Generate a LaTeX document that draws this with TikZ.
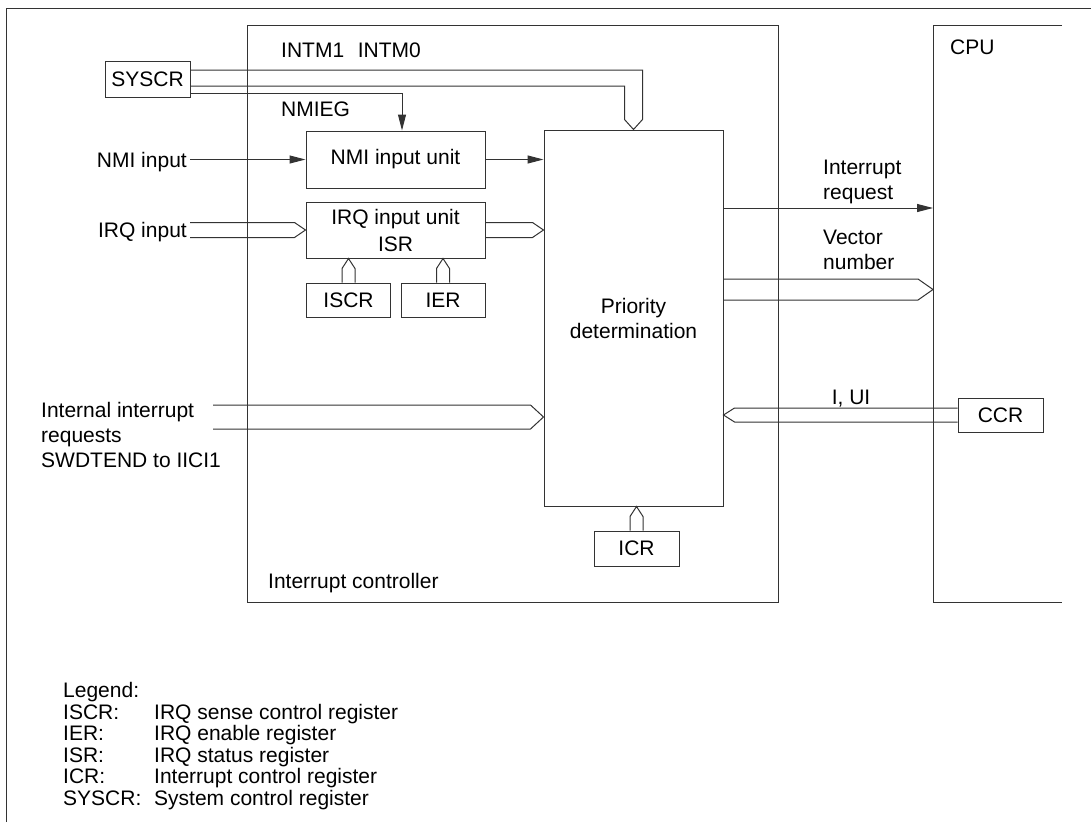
\documentclass[tikz,border=0pt]{standalone}
\usepackage{fontspec}
\setmainfont{Liberation Sans}
\usetikzlibrary{arrows.meta,calc}

\tikzset{
  wire/.style={line width=1pt, draw=black!80},
  reg/.style={wire, rectangle, inner sep=0pt},
  lbl/.style={inner sep=0pt, align=left},
}
% hollow bus, horizontal: from #1 to tip #2, half width #3, shoulder offset #4
\newcommand{\busH}[4]{%
  \draw[wire] ($(#1)+(0,-#3)$) -- ($(#2)+(#4,-#3)$) -- (#2) -- ($(#2)+(#4,#3)$) -- ($(#1)+(0,#3)$);}
% hollow bus, vertical (tip on top)
\newcommand{\busV}[4]{%
  \draw[wire] ($(#1)+(-#3,0)$) -- ($(#2)+(-#3,#4)$) -- (#2) -- ($(#2)+(#3,#4)$) -- ($(#1)+(#3,0)$);}

\begin{document}
\begin{tikzpicture}[x=1pt, y=-1pt, >={Triangle[length=16pt,width=8pt]}, font=\fontsize{21}{25}\selectfont]
    \useasboundingbox (0,0) rectangle (1091,822);
    % page frame
    \draw[wire] (6,822) -- (6,8) -- (1091,8);

    % interrupt controller and cpu
    \node[reg, minimum width=531pt, minimum height=577pt] (ic) at (512.5,313.5) {};
    \node[lbl, anchor=base west] (iclbl) at (268,588.5) {Interrupt controller};
    \coordinate (cpunw) at (933,25);
    \draw[wire] (1062,25) -- (cpunw) -- (933,602) -- (1062,602);
    \node[lbl, anchor=base west] (cpulbl) at (950,54.5) {CPU};

    % registers and units
    \node[reg, minimum width=85pt, minimum height=36pt] (syscr) at (147.5,79) {SYSCR};
    \node[reg, minimum width=179pt, minimum height=57pt] (nmi) at (395.5,159.5) {NMI input unit};
    \node[reg, minimum width=179pt, minimum height=56pt, align=center] (irq) at (395.5,230) {IRQ input unit\\[2pt]ISR};
    \node[reg, minimum width=84pt, minimum height=34pt] (iscr) at (348.5,300) {ISCR};
    \node[reg, minimum width=84pt, minimum height=34pt] (ier) at (443,300) {IER};
    \node[reg, minimum width=179pt, minimum height=376pt, align=center] (prio) at (633.5,318) {Priority\\determination};
    \node[reg, minimum width=85pt, minimum height=35pt] (icr) at (636.5,548.5) {ICR};
    \node[reg, minimum width=85pt, minimum height=34pt] (ccr) at (1000.5,415) {CCR};

    % signal names
    \node[lbl, anchor=base west] (intm) at (281,57.5) {INTM1\hspace{0.65em}INTM0};
    \node[lbl, anchor=base west] (nmieg) at (281,116.5) {NMIEG};
    \node[lbl, anchor=base east, inner sep=3pt] (nmiin) at (190,167.5) {NMI input};
    \node[lbl, anchor=base east, inner sep=3pt] (irqin) at (190,237.5) {IRQ input};
    \node[lbl, anchor=west] (intlbl) at (41,435) {Internal interrupt\\requests\\SWDTEND to IICI1};
    \node[lbl, anchor=west] (reqlbl) at (823,182) {Interrupt\\request};
    \node[lbl, anchor=west] (veclbl) at (823,250) {Vector\\number};
    \node[lbl, anchor=base] (iui) at (851,404.5) {I, UI};

    % SYSCR bits
    \draw[wire] (syscr.east |- 0,70) -- (642.5,70) -- ($(prio.north)+(9,-10)$) -- (prio.north)
        -- ($(prio.north)+(-9,-10)$) -- (624.5,86) -- (syscr.east |- 0,86);
    \draw[wire, ->] (syscr.east |- 0,93) -| ($(nmi.north)+(6.5,0)$);

    % inputs
    \draw[wire, ->] (nmiin.east |- nmi.west) -- (nmi.west);
    \draw[wire, ->] (nmi.east) -- (nmi.east -| prio.west);
    \busH{irqin.east |- irq.west}{irq.west}{7.5}{-11}
    \busH{irq.east}{irq.east -| prio.west}{7.5}{-11}
    \busV{iscr.north}{iscr.north |- irq.south}{6.5}{10}
    \busV{ier.north}{ier.north |- irq.south}{6.5}{10}
    \busV{icr.north}{icr.north |- prio.south}{6.5}{10}
    \coordinate (intin) at (213,417);
    \busH{intin}{intin -| prio.west}{12}{-13}

    % to and from the cpu
    \coordinate (reqtip) at (933,208);
    \draw[wire, ->] (prio.east |- reqtip) -- (reqtip);
    \coordinate (vectip) at (933,289.5);
    \busH{prio.east |- vectip}{vectip}{10.5}{-15}
    \busH{ccr.west}{ccr.west -| prio.east}{7}{11}

    % legend
    \node[lbl, anchor=base west] (legend) at (63,697.5) {Legend:};
    \foreach \key/\txt [count=\i] in {ISCR:/IRQ sense control register, IER:/IRQ enable register,
        ISR:/IRQ status register, ICR:/Interrupt control register, SYSCR:/System control register}
    {
        \node[lbl, anchor=base west] (key\i) at (63,697.5+21.5*\i) {\key};
        \node[lbl, anchor=base west] (txt\i) at (154,697.5+21.5*\i) {\txt};
    }
\end{tikzpicture}
\end{document}
